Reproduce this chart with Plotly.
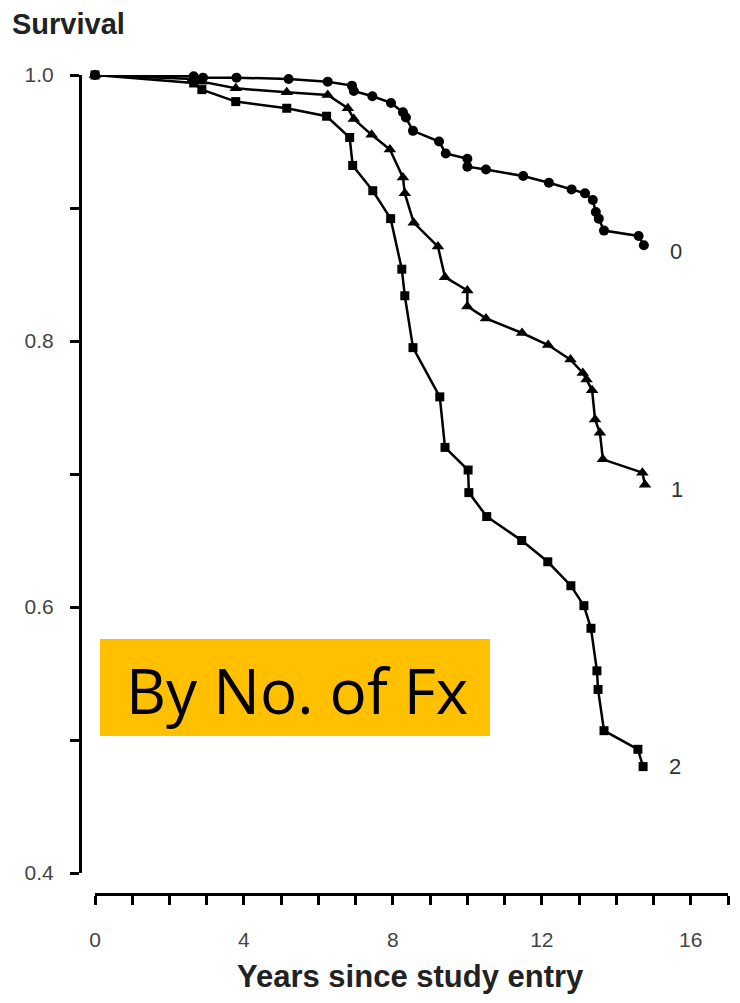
import plotly.graph_objects as go

# Kaplan-Meier style survival by number of fractures
years_0 = [0, 2.65, 2.9, 3.8, 5.2, 6.25, 6.9, 6.95, 7.45, 7.95, 8.27, 8.35, 8.54, 9.24, 9.42,
           10.0, 10.0, 10.5, 11.5, 12.19, 12.8, 13.16, 13.37, 13.45, 13.53, 13.67, 14.6, 14.74]
surv_0 = [1.0, 0.999, 0.998, 0.998, 0.997, 0.995, 0.992, 0.988, 0.984, 0.979, 0.972, 0.968, 0.958, 0.950, 0.941,
          0.937, 0.931, 0.929, 0.924, 0.919, 0.914, 0.911, 0.906, 0.897, 0.892, 0.883, 0.879, 0.872]

years_1 = [0, 2.62, 2.86, 3.78, 5.15, 6.25, 6.79, 6.95, 7.43, 7.92, 8.27, 8.32, 8.56, 9.21, 9.4,
           10.0, 10.0, 10.5, 11.47, 12.17, 12.77, 13.1, 13.2, 13.35, 13.43, 13.56, 13.64, 14.7, 14.77]
surv_1 = [1.0, 0.997, 0.995, 0.990, 0.987, 0.985, 0.975, 0.967, 0.955, 0.944, 0.923, 0.911, 0.889, 0.871, 0.848,
          0.838, 0.826, 0.817, 0.806, 0.797, 0.786, 0.776, 0.771, 0.763, 0.741, 0.731, 0.711, 0.701, 0.692]

years_2 = [0, 2.65, 2.87, 3.78, 5.15, 6.22, 6.84, 6.92, 7.46, 7.94, 8.24, 8.32, 8.54, 9.26, 9.4,
           10.02, 10.04, 10.52, 11.46, 12.16, 12.78, 13.13, 13.32, 13.48, 13.51, 13.67, 14.58, 14.72]
surv_2 = [1.0, 0.994, 0.989, 0.980, 0.975, 0.969, 0.953, 0.932, 0.913, 0.892, 0.854, 0.834, 0.795, 0.758, 0.720,
          0.703, 0.686, 0.668, 0.650, 0.634, 0.616, 0.601, 0.584, 0.552, 0.538, 0.507, 0.493, 0.480]

y_ticks = [0.4, 0.5, 0.6, 0.7, 0.8, 0.9, 1.0]
y_labels = ["0.4", "", "0.6", "", "0.8", "", "1.0"]
x_ticks = list(range(0, 18))
x_labels = [str(v) if v % 4 == 0 else "" for v in x_ticks]

curves = [
    (years_0, surv_0, "circle", 10, "0", -0.005),
    (years_1, surv_1, "triangle-up", 11, "1", -0.004),
    (years_2, surv_2, "square", 9, "2", 0.0),
]

fig = go.Figure()
for xs, ys, sym, size, name, _ in curves:
    fig.add_trace(go.Scatter(
        x=xs, y=ys, mode="lines+markers", name=name,
        line=dict(color="black", width=2.5),
        marker=dict(symbol=sym, size=size, color="black"),
        cliponaxis=False, showlegend=False,
    ))

# curve labels at the right end
for xs, ys, sym, size, name, dy in curves:
    fig.add_annotation(x=xs[-1] + 0.85, y=ys[-1] + dy, xref="x", yref="y", text=name,
                       showarrow=False, xanchor="center", yanchor="middle",
                       font=dict(family="Liberation Sans", size=22, color="#333"))

axis_font = dict(family="Liberation Sans", size=21, color="#444")

# the page body adds an 8px offset, margins are set so the axes land where the original has them
fig.update_layout(
    width=740, height=1003,
    margin=dict(l=72, r=20, t=67, b=117),
    paper_bgcolor="white", plot_bgcolor="white",
    xaxis=dict(
        range=[0, 17], domain=[15 / 648, 1], anchor="free", position=0,
        tickvals=x_ticks, ticktext=x_labels,
        ticks="outside", ticklen=9, tickwidth=3, tickcolor="black",
        showline=True, linewidth=3, linecolor="black",
        showgrid=False, zeroline=False, tickfont=axis_font, ticklabelstandoff=17,
    ),
    yaxis=dict(
        range=[0.4, 1.0], domain=[21 / 819, 1], anchor="free", position=0,
        tickvals=y_ticks, ticktext=y_labels,
        ticks="outside", ticklen=9, tickwidth=3, tickcolor="black",
        showline=True, linewidth=3, linecolor="black",
        showgrid=False, zeroline=False, tickfont=axis_font, ticklabelstandoff=12,
    ),
)

fig.add_annotation(x=-70 / 648, y=(894 - 24) / 819, xref="paper", yref="paper",
                   text="<b>Survival</b>", showarrow=False, xanchor="left", yanchor="middle",
                   font=dict(family="Liberation Sans", size=29, color="#222"))
fig.add_annotation(x=(410 - 80) / 648, y=(894 - 976) / 819, xref="paper", yref="paper",
                   text="<b>Years since study entry</b>", showarrow=False,
                   xanchor="center", yanchor="middle",
                   font=dict(family="Liberation Sans", size=31, color="#222"))

# orange call-out box
fig.add_shape(type="rect", xref="paper", yref="paper",
              x0=(100 - 80) / 648, x1=(490 - 80) / 648,
              y0=(894 - 736) / 819, y1=(894 - 639) / 819,
              fillcolor="#FFC000", line=dict(width=0), layer="above")
fig.add_annotation(x=(297 - 80) / 648, y=(894 - 690) / 819, xref="paper", yref="paper",
                   text="By No. of Fx", showarrow=False, xanchor="center", yanchor="middle",
                   font=dict(family="Open Sans", size=62, color="black"))

fig.write_html("out.html")
